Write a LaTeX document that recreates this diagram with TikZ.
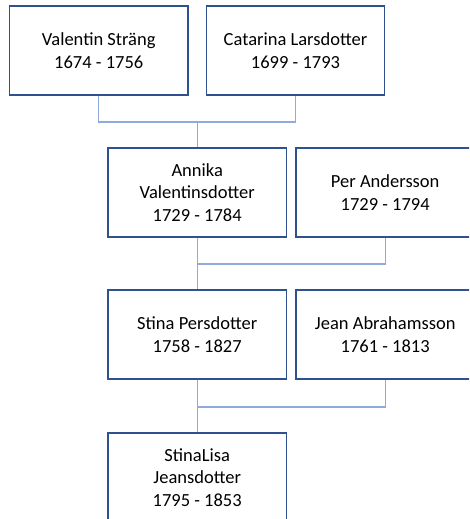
\documentclass[tikz,border=0pt]{standalone}
\usepackage{fontspec}
\setmainfont{Carlito}
\definecolor{boxblue}{HTML}{2F528F}
\definecolor{linkblue}{HTML}{8FAADC}
\begin{document}
\begin{tikzpicture}[x=1pt,y=-1pt,
  person/.style={draw=boxblue,line width=1.4pt,fill=white,minimum width=178.5pt,minimum height=89pt,inner sep=0pt,align=center,font=\fontsize{18.5}{22.5}\selectfont},
  link/.style={draw=linkblue,line width=1.4pt}]
\useasboundingbox (0,0) rectangle (469,519);
\clip (0,0) rectangle (469,519);
\node[person] (vs) at (98.75,50.5) {Valentin Sträng\\1674 - 1756};
\node[person] (cl) at (295.5,50.5) {Catarina Larsdotter\\1699 - 1793};
\node[person] (av) at (197.2,192.5) {Annika\\Valentinsdotter\\1729 - 1784};
\node[person] (pa) at (385.2,192.5) {Per Andersson\\1729 - 1794};
\node[person] (sp) at (197.2,334.5) {Stina Persdotter\\1758 - 1827};
\node[person] (ja) at (385.2,334.5) {Jean Abrahamsson\\1761 - 1813};
\node[person] (sl) at (197.2,477.5) {StinaLisa\\Jeansdotter\\1795 - 1853};
\coordinate (m1) at (197.2,122);
\coordinate (m2) at (197.2,264);
\coordinate (m3) at (197.2,407);
\draw[link] (vs.south) |- (m1) -| (cl.south);
\draw[link] (m1) -- (av.north);
\draw[link] (av.south) -- (m2);
\draw[link] (m2) -| (pa.south);
\draw[link] (m2) -- (sp.north);
\draw[link] (sp.south) -- (m3);
\draw[link] (m3) -| (ja.south);
\draw[link] (m3) -- (sl.north);
\end{tikzpicture}
\end{document}
